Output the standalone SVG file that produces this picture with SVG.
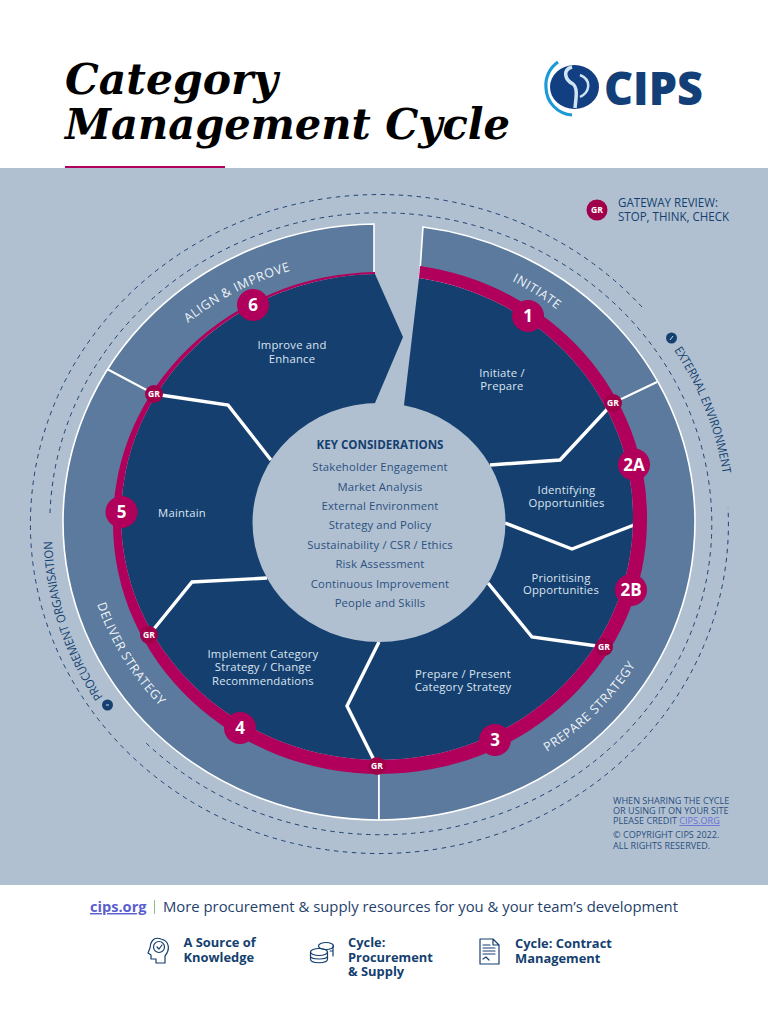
<svg xmlns="http://www.w3.org/2000/svg" width="768" height="1024" viewBox="0 0 768 1024">
<style>
text{font-family:"Open Sans","Noto Sans","Liberation Sans",sans-serif}
.ttl{font-family:"DejaVu Serif","Liberation Serif",serif;font-size:42px;font-weight:700;font-style:italic;fill:#000}
.lab{font-size:11.3px;fill:#dce5ef;text-anchor:middle;letter-spacing:.2px}
.key{font-size:11.3px;fill:#2c5080;text-anchor:middle;letter-spacing:.15px}
.ring{font-size:12.6px;fill:#eef2f7;letter-spacing:.6px}
.out{font-size:12px;fill:#143f6f}
.num{font-size:17px;font-weight:700;fill:#fff;text-anchor:middle}
.gr{font-size:8.6px;font-weight:700;fill:#fff;text-anchor:middle}
.mag{fill:#b0005b}
.grc{fill:#a00049}
.dash{fill:none;stroke:#1f4270;stroke-width:1;stroke-dasharray:4.5 4.5}
.div{fill:none;stroke:#fff;stroke-width:3.4}
.sec{fill:#5b7a9d;stroke:#fff;stroke-width:1.6}
.navy{fill:#143f6f}
.cr{font-size:9.1px;fill:#2c4f80}
.ft{font-size:12.9px;font-weight:700;fill:#143f6f}
.ic{fill:none;stroke:#143f6f;stroke-width:1.2;stroke-linejoin:round;stroke-linecap:round}
</style>
<rect width="768" height="1024" fill="#fff"/>
<g id="title">
<text x="65" y="94" class="ttl" textLength="213" lengthAdjust="spacingAndGlyphs">Category</text>
<text x="65" y="139" class="ttl" textLength="445" lengthAdjust="spacingAndGlyphs">Management Cycle</text>
<rect x="65" y="166" width="160" height="2" fill="#b0005b"/>
</g>
<g id="logo">
<path d="M558,62 A28,28 0 0 0 546,88 A28,28 0 0 0 572,115" fill="none" stroke="#1c9ad6" stroke-width="3.2"/>
<ellipse cx="574.5" cy="87" rx="24.5" ry="22" fill="#123f82"/>
<path d="M572,67 C562,70 565,80 573,84 C578,88 576,98 575,108" fill="none" stroke="#cfe3f3" stroke-width="3.5"/>
<path d="M580,75 C592,80 590,92 580,97" fill="none" stroke="#cfe3f3" stroke-width="2.5"/>
<text x="604" y="105" font-size="46" font-weight="800" fill="#123f78" textLength="99" lengthAdjust="spacingAndGlyphs">CIPS</text>
</g>
<rect id="panel" x="0" y="168" width="768" height="717" fill="#b0c0d1"/>
<g id="legend">
<circle cx="597" cy="210" r="10.5" class="grc"/>
<text x="597" y="213" class="gr">GR</text>
<text x="618" y="207" font-size="12.4" fill="#143f6f" textLength="100" lengthAdjust="spacingAndGlyphs">GATEWAY REVIEW:</text>
<text x="618" y="221" font-size="12.4" fill="#143f6f" textLength="111" lengthAdjust="spacingAndGlyphs">STOP, THINK, CHECK</text>
</g>
<g id="dashes">
<path class="dash" d="M642,307 A349,329.5 0 1 0 728,508"/>
<path class="dash" d="M50,513 A331,311 0 1 1 145,742"/>
</g>
<g id="sectors">
<path class="sec" d="M374,224 A316,298 0 0 0 63,522 A316,298 0 0 0 379,820 L379,769 A262,247 0 0 1 117,522 A262,247 0 0 1 374,275 Z"/>
<path class="sec" d="M423,227 A316,298 0 0 1 695,522 A316,298 0 0 1 379,820 L379,769 A262,247 0 0 0 641,522 A262,247 0 0 0 419.5,278 Z"/>
</g>
<g id="navy-segments">
<path class="navy" d="M419,278 A253,241 0 0 1 633,519 A253,241 0 0 1 380,760 L380,522 L404,405 Z"/>
<path class="navy" d="M375,274 A259,243 0 0 0 121,517 A259,243 0 0 0 380,760 L380,522 L375,403 L403,337 Z"/>
</g>
<g id="connectors">
<path d="M107,369 L154,394 M657,382 L613,403" fill="none" stroke="#fff" stroke-width="2"/>
<path class="div" d="M613,403 L560,460 L490,465"/>
<path class="div" d="M505,523 L572,549 L634,525"/>
<path class="div" d="M488,583 L532,637 L604,647"/>
<path class="div" d="M379,642 L347,706 L377,766"/>
<path class="div" d="M267,578 L192,582 L149,635"/>
<path class="div" d="M154,394 L228,405 L271,460"/>
</g>
<path id="magenta-ring" class="mag" d="M420,266 A267,254 0 0 1 647,520 A267,254 0 0 1 380,774 A267,251 0 0 1 113,523 A267,251 0 0 1 375,272 L375,274 A259,243 0 0 0 121,517 A259,243 0 0 0 380,760 A253,241 0 0 0 633,519 A253,241 0 0 0 419,278 Z"/>
<g id="centre">
<ellipse cx="379" cy="522.5" rx="126.500" ry="119.500" fill="#b0c0d1"/>
<text x="380" y="449" font-size="11.6" font-weight="700" fill="#143f6f" text-anchor="middle">KEY CONSIDERATIONS</text>
<text x="380" y="471" class="key">Stakeholder Engagement</text>
<text x="380" y="491" class="key">Market Analysis</text>
<text x="380" y="510" class="key">External Environment</text>
<text x="380" y="529" class="key">Strategy and Policy</text>
<text x="380" y="549" class="key">Sustainability / CSR / Ethics</text>
<text x="380" y="568" class="key">Risk Assessment</text>
<text x="380" y="588" class="key">Continuous Improvement</text>
<text x="380" y="607" class="key">People and Skills</text>
</g>
<g id="node-labels">
<text x="502" y="377" class="lab">Initiate /</text><text x="502" y="390" class="lab">Prepare</text>
<text x="566.500" y="494" class="lab">Identifying</text><text x="566.500" y="507" class="lab">Opportunities</text>
<text x="561" y="582" class="lab">Prioritising</text><text x="561" y="594" class="lab">Opportunities</text>
<text x="463" y="678" class="lab">Prepare / Present</text><text x="463" y="691" class="lab">Category Strategy</text>
<text x="263" y="658" class="lab">Implement Category</text><text x="263" y="671" class="lab">Strategy / Change</text><text x="263" y="685" class="lab">Recommendations</text>
<text x="182" y="517" class="lab">Maintain</text>
<text x="292" y="349" class="lab">Improve and</text><text x="292" y="363" class="lab">Enhance</text>
</g>
<defs>
<path id="p-init" d="M512,281 A295,280 0 0 1 565,316"/>
<path id="p-align" d="M188,323 A295,278 0 0 1 300,268"/>
<path id="p-del" d="M97,604 A290,273 0 0 0 166,712"/>
<path id="p-prep" d="M547,752 A290,273 0 0 0 640,658"/>
<path id="p-ext" d="M674,350 A347,327 0 0 1 724,482"/>
<path id="p-proc" d="M103,697 A327,308 0 0 1 52,530"/>
</defs>
<g id="ring-labels">
<text class="ring"><textPath href="#p-init">INITIATE</textPath></text>
<text class="ring"><textPath href="#p-align">ALIGN &amp; IMPROVE</textPath></text>
<text class="ring"><textPath href="#p-del">DELIVER STRATEGY</textPath></text>
<text class="ring"><textPath href="#p-prep">PREPARE STRATEGY</textPath></text>
<text class="out"><textPath href="#p-ext" textLength="134" lengthAdjust="spacingAndGlyphs">EXTERNAL ENVIRONMENT</textPath></text>
<text class="out"><textPath href="#p-proc" textLength="166" lengthAdjust="spacingAndGlyphs">PROCUREMENT ORGANISATION</textPath></text>
</g>
<g id="info-icons">
<circle cx="671.500" cy="338" r="5.500" fill="#143f6f"/><path d="M670,340 L673,336" stroke="#cfd9e5" stroke-width="1"/>
<circle cx="107.500" cy="705" r="5.500" fill="#143f6f"/><path d="M106,705 L109,705" stroke="#cfd9e5" stroke-width="1"/>
</g>
<g id="n1"><circle cx="528" cy="316" r="16" class="mag"/><text x="528" y="322" class="num">1</text></g>
<g id="n2a"><circle cx="634" cy="464.500" r="16" class="mag"/><text x="634" y="470.500" class="num">2A</text></g>
<g id="n2b"><circle cx="631" cy="590" r="16" class="mag"/><text x="631" y="596" class="num">2B</text></g>
<g id="n3"><circle cx="495" cy="740" r="16" class="mag"/><text x="495" y="746" class="num">3</text></g>
<g id="n4"><circle cx="240" cy="728" r="16" class="mag"/><text x="240" y="734" class="num">4</text></g>
<g id="n5"><circle cx="121.500" cy="512" r="16" class="mag"/><text x="121.500" y="518" class="num">5</text></g>
<g id="n6"><circle cx="253" cy="305" r="16" class="mag"/><text x="253" y="311" class="num">6</text></g>
<g id="gr1"><circle cx="613" cy="403" r="9" class="grc"/><text x="613" y="406" class="gr">GR</text></g>
<g id="gr2"><circle cx="604" cy="647" r="9" class="grc"/><text x="604" y="650" class="gr">GR</text></g>
<g id="gr3"><circle cx="377" cy="766" r="9" class="grc"/><text x="377" y="769" class="gr">GR</text></g>
<g id="gr4"><circle cx="149" cy="635" r="9" class="grc"/><text x="149" y="638" class="gr">GR</text></g>
<g id="gr5"><circle cx="154" cy="394" r="9" class="grc"/><text x="154" y="397" class="gr">GR</text></g>
<g id="credit">
<text x="613" y="804" class="cr">WHEN SHARING THE CYCLE</text>
<text x="613" y="814" class="cr">OR USING IT ON YOUR SITE</text>
<text x="613" y="824" class="cr">PLEASE CREDIT <tspan fill="#6a6fd8" text-decoration="underline">CIPS.ORG</tspan></text>
<text x="613" y="838" class="cr">© COPYRIGHT CIPS 2022.</text>
<text x="613" y="849" class="cr">ALL RIGHTS RESERVED.</text>
</g>
<g id="footer">
<text x="90" y="912" font-size="14.600" font-weight="700" fill="#5a5fd0" text-decoration="underline">cips.org</text>
<rect x="154" y="900" width="1" height="14" fill="#8cc084"/>
<text x="163" y="912" font-size="15" fill="#1f3f6b" textLength="515" lengthAdjust="spacingAndGlyphs">More procurement &amp; supply resources for you &amp; your team’s development</text>
<text x="183.500" y="947" class="ft">A Source of</text><text x="183.500" y="962" class="ft">Knowledge</text>
<text x="348" y="947" class="ft">Cycle:</text><text x="348" y="962" class="ft">Procurement</text><text x="348" y="976" class="ft">&amp; Supply</text>
<text x="515" y="948" class="ft">Cycle: Contract</text><text x="515" y="963" class="ft">Management</text>
</g>
<g id="icon-head" class="ic">
<path d="M165,963 L165,956 C170,950 170,941 161,939 C153,936 150,943 150,948 L148,953 L151,955 L151,959 L156,959 L156,963 Z"/>
<circle cx="159" cy="947" r="5.500"/><path d="M157,947 L159,949 L162,945"/>
</g>
<g id="icon-coins" class="ic">
<ellipse cx="326" cy="946" rx="7.500" ry="3.500"/><path d="M333,946 V956 M333,951 H330"/>
<ellipse cx="319" cy="952" rx="8.500" ry="3.500"/><path d="M310.500,952 V959 C310.500,964 327.500,964 327.500,959 V952 M310.500,956 C310.500,960 327.500,960 327.500,956"/>
</g>
<g id="icon-doc" class="ic">
<path d="M480,939 H493 L499,945 V964 H480 Z M493,939 V945 H499"/>
<path d="M483,945 H490 M483,948 H495 M483,951 H495 M483,954 H495 M483,959 L486,957 L489,960"/>
</g>
</svg>
